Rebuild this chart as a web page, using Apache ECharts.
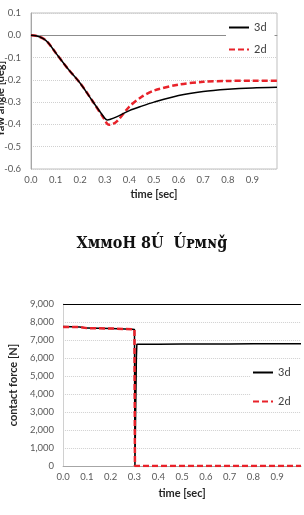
<!DOCTYPE html>
<html>
<head>
<meta charset="utf-8">
<script src="https://cdn.jsdelivr.net/npm/echarts@6/dist/echarts.min.js"></script>
<style>
html, body { margin: 0; padding: 0; background: #fff; }
#chart { width: 304px; height: 515px; }
</style>
</head>
<body>
<div id="chart"></div>
<script>
// yaw angle vs time (top panel)
const yawTime = [0, 0.02, 0.05, 0.07, 0.1, 0.15, 0.2, 0.25, 0.3, 0.31, 0.32, 0.35, 0.4, 0.45, 0.5, 0.6, 0.7, 0.8, 0.9, 1.0];
const yaw3d = [0, -0.002, -0.015, -0.034, -0.078, -0.15, -0.215, -0.295, -0.372, -0.38, -0.378, -0.365, -0.338, -0.318, -0.3, -0.27, -0.252, -0.242, -0.236, -0.233];
const yaw2d = [0, -0.002, -0.015, -0.034, -0.078, -0.15, -0.215, -0.295, -0.38, -0.398, -0.402, -0.385, -0.32, -0.276, -0.248, -0.221, -0.209, -0.205, -0.204, -0.204];

// contact force vs time (bottom panel)
const forceTime3d = [0, 0.07, 0.1, 0.2, 0.29, 0.3, 0.302, 0.308, 0.31, 0.4, 0.5, 0.7, 0.8, 0.9, 1.0];
const force3d = [7750, 7720, 7660, 7640, 7600, 7580, 0, 6000, 6760, 6770, 6780, 6780, 6790, 6790, 6790];
const forceTime2d = [0, 0.07, 0.1, 0.2, 0.29, 0.3, 0.302, 0.5, 0.8, 1.0];
const force2d = [7720, 7720, 7660, 7640, 7600, 7580, 0, 0, 0, 0];

const yawTicks = { min: -0.6, max: 0.1, interval: 0.1 };
const forceTicks = { min: 0, max: 9000, interval: 1000 };

const pairs = (xs, ys) => xs.map((x, i) => [x, ys[i]]);

const labelColor = "#595959";
const font = "Lato";
const tickFont = 9.5;
const titleStyle = { fontFamily: font, fontWeight: "bold", fontSize: 11, color: "#262626" };

const xAxisBase = {
    type: "value",
    min: 0,
    max: 1,
    interval: 0.1,
    name: "time [sec]",
    nameLocation: "middle",
    nameTextStyle: titleStyle,
    axisLine: { show: true, lineStyle: { color: "#a6a6a6", width: 1 } },
    axisTick: { show: false },
    splitLine: { show: false },
    axisLabel: {
        fontFamily: font,
        fontSize: tickFont,
        color: labelColor,
        margin: 6,
        formatter: (v) => (v > 0.95 ? "" : v.toFixed(1)),
    },
};

const legendBase = {
    data: ["3d", "2d"],
    orient: "vertical",
    itemWidth: 20,
    itemHeight: 10,
    backgroundColor: "#fff",
    itemStyle: { opacity: 0 },
    textStyle: { fontFamily: font, fontSize: 11, color: "#404040" },
};

const chart = echarts.init(document.getElementById("chart"), null, { renderer: "canvas" });

chart.setOption({
    animation: false,
    backgroundColor: "#fff",
    grid: [
        { left: 31, top: 13, width: 246, height: 156, show: true, borderColor: "#bfbfbf", borderWidth: 1 },
        { left: 60, top: 304, width: 249, height: 162 },
    ],
    xAxis: [
        Object.assign({}, xAxisBase, { gridIndex: 0, nameGap: 20 }),
        Object.assign({}, xAxisBase, { gridIndex: 1, nameGap: 22 }),
    ],
    yAxis: [
        {
            gridIndex: 0,
            type: "value",
            min: yawTicks.min,
            max: yawTicks.max,
            interval: yawTicks.interval,
            axisLine: { show: true, lineStyle: { color: "#a6a6a6" } },
            axisTick: { show: false },
            axisLabel: { fontFamily: font, fontSize: tickFont, color: labelColor, margin: 10, formatter: (v) => v.toFixed(1) },
            splitLine: { show: true, lineStyle: { color: "#d0d0d0", type: "dotted" } },
        },
        {
            gridIndex: 1,
            type: "value",
            min: forceTicks.min,
            max: forceTicks.max,
            interval: forceTicks.interval,
            name: "contact force [N]",
            nameLocation: "middle",
            nameGap: 30,
            nameTextStyle: titleStyle,
            axisLine: { show: true, lineStyle: { color: "#d0d0d0" } },
            axisTick: { show: false },
            axisLabel: {
                fontFamily: font,
                fontSize: tickFont,
                color: labelColor,
                margin: 9,
                formatter: (v) => v.toLocaleString("en-US"),
            },
            splitLine: { show: true, lineStyle: { color: "#d0d0d0", type: "dotted" } },
        },
    ],
    legend: [
        Object.assign({}, legendBase, { left: 226, top: 20, itemGap: 11, padding: [2, 8, 2, 2] }),
        Object.assign({}, legendBase, { left: 251, top: 366, itemGap: 18, padding: [1, 20, 1, 1] }),
    ],
    graphic: [
        {
            // top y-axis title, partly cut by the left edge as in the source
            type: "text",
            x: 0,
            y: 99,
            rotation: Math.PI / 2,
            style: {
                text: "Yaw angle [deg]",
                font: "bold 11px Lato",
                fill: "#262626",
                align: "center",
                verticalAlign: "middle",
            },
        },
        {
            type: "text",
            left: "center",
            top: 236,
            style: {
                text: "X\u1D0D\u1D0D\u1D0FH 8\u00DA  \u00DA\u1D18\u1D0D\u0274\u01E7",
                fontFamily: "DejaVu Serif Condensed",
                fontWeight: "bold",
                fontSize: 16,
                fill: "#111",
            },
        },
    ],
    series: [
        {
            name: "3d",
            type: "line",
            xAxisIndex: 0,
            yAxisIndex: 0,
            data: pairs(yawTime, yaw3d),
            smooth: 0.3,
            symbol: "none",
            z: 3,
            lineStyle: { color: "#000", width: 1.5 },
            itemStyle: { color: "#000" },
            markLine: {
                silent: true,
                symbol: "none",
                label: { show: false },
                lineStyle: { color: "#8c8c8c", type: "solid", width: 1 },
                data: [{ yAxis: 0 }],
                z: 1,
            },
        },
        {
            name: "2d",
            type: "line",
            xAxisIndex: 0,
            yAxisIndex: 0,
            data: pairs(yawTime, yaw2d),
            smooth: 0.3,
            symbol: "none",
            z: 2,
            lineStyle: { color: "#e8222a", width: 2.5, type: [6, 3] },
            itemStyle: { color: "#e8222a" },
        },
        {
            name: "3d",
            type: "line",
            xAxisIndex: 1,
            yAxisIndex: 1,
            data: pairs(forceTime3d, force3d),
            symbol: "none",
            z: 3,
            lineStyle: { color: "#000", width: 1.5 },
            itemStyle: { color: "#000" },
            markLine: {
                silent: true,
                symbol: "none",
                label: { show: false },
                lineStyle: { color: "#000", type: "solid", width: 1 },
                data: [{ yAxis: 9000 }],
            },
        },
        {
            name: "2d",
            type: "line",
            xAxisIndex: 1,
            yAxisIndex: 1,
            data: pairs(forceTime2d, force2d),
            symbol: "none",
            z: 4,
            lineStyle: { color: "#e8222a", width: 2.5, type: [6, 3] },
            itemStyle: { color: "#e8222a" },
        },
    ],
});
</script>
</body>
</html>
